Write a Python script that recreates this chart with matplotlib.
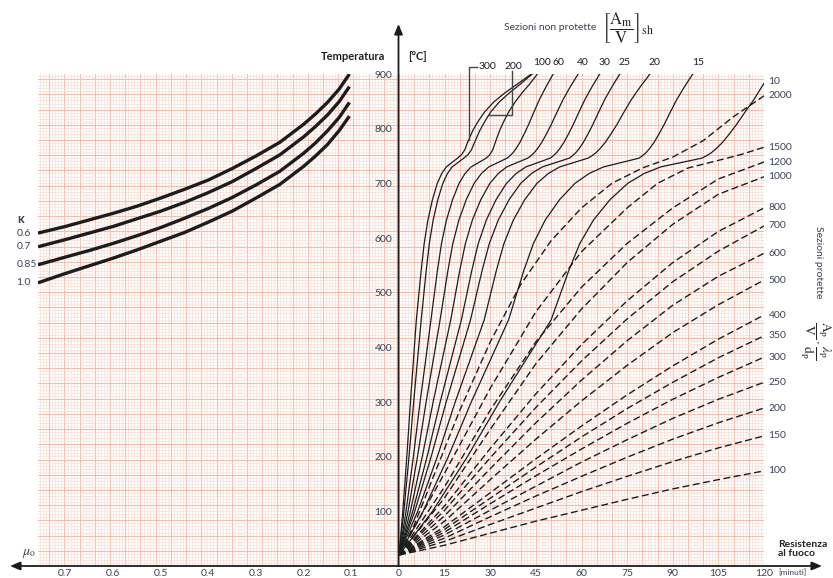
import numpy as np
import matplotlib.pyplot as plt
from matplotlib.ticker import MultipleLocator

plt.rcParams['font.family'] = ['Lato', 'DejaVu Sans']
plt.rcParams['mathtext.fontset'] = 'stix'

# left panel: critical temperature vs mu0 for several kappa
mu0 = [0.757, 0.7, 0.65, 0.6, 0.55, 0.5, 0.45, 0.4, 0.35, 0.3, 0.25, 0.2, 0.175, 0.15, 0.125, 0.104]
kappa_labels = ['0.6', '0.7', '0.85', '1.0']
theta_k06 = [609, 621, 633, 645, 658, 673, 689, 706, 727, 750, 775, 808, 827, 848, 873, 900]
theta_k07 = [584, 597, 609, 621, 635, 649, 665, 683, 703, 727, 752, 785, 804, 825, 850, 877]
theta_k085 = [551, 565, 577, 590, 604, 619, 636, 654, 674, 697, 722, 755, 774, 796, 821, 848]
theta_k10 = [518, 535, 549, 563, 578, 594, 610, 629, 649, 673, 698, 731, 750, 771, 797, 823]

# right panel: unprotected sections (solid), Am/V
# high Am/V: quick rise after the 735 C step
T_fast = [20, 100, 200, 300, 375, 450, 541, 590, 633, 670, 700, 718, 730, 738, 746,
          752, 761, 777, 797, 815, 831, 849, 865, 882, 900]
# lower Am/V: longer step, then steady rise
T_slow = [20, 100, 200, 300, 375, 450, 541, 590, 633, 670, 700, 718, 730, 738, 746,
          750, 756, 764, 775, 790, 808, 830, 853, 876, 900]
t_u300 = [0, 1.25, 2.57, 3.76, 4.73, 5.7, 7.30, 8.28, 9.51, 10.99, 12.59, 14.06, 15.54, 17.39, 19.23,
          20.5, 21.6, 22.7, 24.3, 26.2, 28.2, 31.2, 34.7, 39.0, 43.5]
t_u200 = [0, 1.61, 3.29, 4.82, 6.06, 7.3, 8.95, 9.97, 11.24, 12.76, 14.41, 15.94, 17.46, 19.37, 21.27,
          22.6, 23.8, 25.0, 26.6, 28.4, 30.2, 33.0, 36.2, 40.0, 43.8]
t_u100 = [0, 2.31, 4.73, 6.93, 8.72, 10.5, 12.65, 13.97, 15.62, 17.6, 19.74, 21.72, 23.7, 26.18, 28.65,
          29.8, 30.8, 31.8, 33.1, 34.6, 36.1, 38.2, 40.4, 43.0, 45.5]
t_u60 = [0, 2.97, 6.08, 8.91, 11.21, 13.5, 16.1, 17.7, 19.7, 22.1, 24.7, 27.1, 29.5, 32.5, 35.5,
         36.41, 37.48, 38.54, 39.76, 41.12, 42.64, 44.32, 46.14, 48.27, 50.7]
t_u40 = [0, 3.74, 7.65, 11.22, 14.11, 17, 19.99, 21.83, 24.13, 26.89, 29.88, 32.64, 35.4, 38.85, 42.3,
         43.3, 44.46, 45.62, 46.95, 48.44, 50.1, 51.93, 53.92, 56.24, 58.9]
t_u30 = [0, 4.51, 9.23, 13.53, 17.02, 20.5, 23.95, 26.07, 28.72, 31.9, 35.34, 38.52, 41.7, 45.68, 49.65,
         50.63, 51.78, 52.92, 54.23, 55.7, 57.33, 59.13, 61.1, 63.38, 66]
t_u25 = [0, 5.17, 10.58, 15.51, 19.51, 23.5, 27.34, 29.7, 32.65, 36.19, 40.02, 43.56, 47.1, 51.53, 55.95,
         56.95, 58.11, 59.28, 60.61, 62.11, 63.78, 65.61, 67.61, 69.94, 72.6]
t_u20 = [0, 6.16, 12.6, 18.48, 23.24, 28, 32.03, 34.51, 37.61, 41.33, 45.36, 49.08, 52.8, 57.45, 62.1,
         63.32, 64.75, 66.18, 67.81, 69.65, 71.69, 73.93, 76.38, 79.24, 82.5]
t_u15 = [0, 7.92, 16.2, 23.76, 29.88, 36, 41.07, 44.19, 48.09, 52.77, 57.84, 62.52, 67.2, 73.05, 78.9,
         79.96, 81.2, 82.44, 83.86, 85.45, 87.22, 89.17, 91.29, 93.77, 96.6]
t_u10 = [0, 11, 22.5, 33, 41.5, 50, 55.85, 59.45, 63.95, 69.35, 75.2, 80.6, 86, 92.75, 99.5,
         100.97, 102.69, 104.4, 106.36, 108.57, 111.02, 113.71, 116.65, 120]
T_u10 = [20, 100, 200, 300, 375, 450, 541, 590, 633, 670, 700, 718, 730, 738, 746,
         750, 756, 764, 775, 790, 808, 830, 853, 883]

# protected sections (dashed), Ap/V * lambda_p/d_p
t_p2000 = [0, 5, 10, 15, 20, 30, 40, 50, 60, 70, 80, 90, 100, 110, 120]
T_p2000 = [20, 75, 145, 215, 285, 410, 515, 595, 655, 700, 728, 748, 778, 822, 860]
t_p1500 = [0, 15, 30, 45, 60, 75, 85, 95, 105, 112, 120]
T_p1500 = [20, 170, 325, 465, 575, 655, 700, 728, 742, 752, 766]
t_prot = [0, 15, 30, 45, 60, 75, 90, 105, 120]
T_p1200 = [20, 145, 285, 410, 510, 590, 655, 708, 739]
T_p1000 = [20, 125, 250, 370, 470, 555, 625, 680, 712]
T_p800 = [20, 110, 215, 315, 405, 485, 555, 612, 655]
T_p700 = [20, 102, 198, 290, 375, 452, 520, 576, 622]
T_p600 = [20, 92, 178, 262, 340, 412, 477, 530, 572]
T_p500 = [20, 82, 158, 232, 302, 367, 427, 478, 523]
T_p400 = [20, 72, 134, 196, 256, 313, 366, 415, 459]
T_p350 = [20, 67, 124, 181, 236, 288, 336, 381, 421]
T_p300 = [20, 62, 114, 165, 214, 261, 305, 345, 382]
T_p250 = [20, 57, 102, 146, 190, 231, 270, 305, 336]
T_p200 = [20, 51, 90, 128, 164, 199, 232, 262, 289]
T_p150 = [20, 45, 76, 106, 136, 164, 191, 216, 238]
T_p100 = [20, 38, 60, 82, 102, 122, 141, 158, 174]

time_ticks = [0, 15, 30, 45, 60, 75, 90, 105, 120]
mu_ticks = [0.7, 0.6, 0.5, 0.4, 0.3, 0.2, 0.1]
temp_ticks = [100, 200, 300, 400, 500, 600, 700, 800, 900]

W, H = 833, 578
fig = plt.figure(figsize=(W / 100, H / 100), dpi=100)

def fx(px):
    return px / W

def fy(py):
    return 1 - py / H

txt_col = '#3a4256'
ink = '#1c1c1c'

# graph paper background (1 unit = 1 minute on the time scale)
ax_bg = fig.add_axes([fx(38), fy(566), fx(764) - fx(38), fy(74) - fy(566)])
ax_bg.set_xlim(-118.7, 120)
ax_bg.set_ylim(0, 161.7)
ax_bg.xaxis.set_minor_locator(MultipleLocator(1))
ax_bg.xaxis.set_major_locator(MultipleLocator(5))
ax_bg.yaxis.set_minor_locator(MultipleLocator(1))
ax_bg.yaxis.set_major_locator(MultipleLocator(5))
ax_bg.grid(which='minor', color='#f9ded5', lw=0.5)
ax_bg.grid(which='major', color='#f1bfae', lw=0.8)
ax_bg.tick_params(which='both', length=0, labelbottom=False, labelleft=False)
for s in ax_bg.spines.values():
    s.set_visible(False)

# left panel
ax_l = fig.add_axes([fx(38), fy(566), fx(399) - fx(38), fy(74) - fy(566)])
ax_l.patch.set_alpha(0)
ax_l.set_xlim(0.757, 0)
ax_l.set_ylim(0, 900)
for th, lab in zip([theta_k06, theta_k07, theta_k085, theta_k10], kappa_labels):
    ax_l.plot(mu0, th, color=ink, lw=2.4, solid_capstyle='butt')
    ax_l.text(0.8025, th[0], lab, ha='left', va='center', fontsize=7.5, color=txt_col)
ax_l.text(0.8, theta_k06[0] + 25, 'κ', ha='left', va='center', fontsize=9,
          color=txt_col, fontweight='bold')
ax_l.set_xticks(mu_ticks)
ax_l.set_xticklabels([str(v) for v in mu_ticks])
ax_l.set_yticks([])
ax_l.tick_params(axis='x', length=0, pad=2, labelsize=7.5, labelcolor=txt_col)
for s in ax_l.spines.values():
    s.set_visible(False)

# right panel
ax_r = fig.add_axes([fx(399), fy(566), fx(764) - fx(399), fy(74) - fy(566)])
ax_r.patch.set_alpha(0)
ax_r.set_xlim(0, 120)
ax_r.set_ylim(0, 900)

solid = [(t_u300, T_fast, '300'), (t_u200, T_fast, '200'), (t_u100, T_fast, '100'),
         (t_u60, T_slow, '60'), (t_u40, T_slow, '40'), (t_u30, T_slow, '30'),
         (t_u25, T_slow, '25'), (t_u20, T_slow, '20'), (t_u15, T_slow, '15'),
         (t_u10, T_u10, '10')]
for t, T, lab in solid:
    ax_r.plot(t, T, color=ink, lw=0.9)
    if lab in ('300', '200'):
        continue
    if lab == '10':
        ax_r.text(121.5, T[-1] + 3, lab, ha='left', va='center', fontsize=7.5, color=txt_col)
    else:
        ax_r.text(t[-1] + 1.6, 912, lab, ha='center', va='bottom', fontsize=7.5, color=ink)

dashed = [(t_p2000, T_p2000, '2000'), (t_p1500, T_p1500, '1500'), (t_prot, T_p1200, '1200'),
          (t_prot, T_p1000, '1000'), (t_prot, T_p800, '800'), (t_prot, T_p700, '700'),
          (t_prot, T_p600, '600'), (t_prot, T_p500, '500'), (t_prot, T_p400, '400'),
          (t_prot, T_p350, '350'), (t_prot, T_p300, '300'), (t_prot, T_p250, '250'),
          (t_prot, T_p200, '200'), (t_prot, T_p150, '150'), (t_prot, T_p100, '100')]
for t, T, lab in dashed:
    ax_r.plot(t, T, color=ink, lw=1.0, ls=(0, (5, 2.5)))
    ax_r.text(121.5, T[-1], lab, ha='left', va='center', fontsize=7.5, color=txt_col)

# leaders for 300 and 200
T300_lead = 779
t300_lead = np.interp(T300_lead, T_fast, t_u300)
ax_r.plot([t300_lead, t300_lead, 25.8], [T300_lead, 913, 913], color='#444', lw=1.0, clip_on=False)
ax_r.text(26.2, 913, '300', ha='left', va='center', fontsize=7.5, color=ink)
T200_lead = 825
t200_lead = np.interp(T200_lead, T_fast, t_u200)
ax_r.plot([t200_lead, 37.3, 37.3], [T200_lead, T200_lead, 905], color='#444', lw=1.0, clip_on=False)
ax_r.text(37.6, 913, '200', ha='center', va='center', fontsize=7.5, color=ink)

ax_r.set_xticks(time_ticks)
ax_r.set_xticklabels([str(v) for v in time_ticks])
ax_r.set_yticks(temp_ticks)
ax_r.set_yticklabels([str(v) for v in temp_ticks])
ax_r.tick_params(axis='both', length=0, labelsize=7.5, labelcolor=txt_col)
ax_r.tick_params(axis='x', pad=2)
ax_r.tick_params(axis='y', pad=5)
for s in ax_r.spines.values():
    s.set_visible(False)

# axes with arrows
arr = dict(arrowstyle='-|>,head_length=0.6,head_width=0.25', color=ink, lw=1.3,
           shrinkA=0, shrinkB=0)
ax_r.annotate('', xy=(fx(398.5), fy(24)), xytext=(fx(398.5), fy(566)),
              xycoords='figure fraction', textcoords='figure fraction', arrowprops=arr)
ax_r.annotate('', xy=(fx(822), fy(566)), xytext=(fx(398.5), fy(566)),
              xycoords='figure fraction', textcoords='figure fraction', arrowprops=arr)
ax_r.annotate('', xy=(fx(10), fy(566)), xytext=(fx(398.5), fy(566)),
              xycoords='figure fraction', textcoords='figure fraction', arrowprops=arr)

# titles and labels
fig.text(fx(385), fy(57), 'Temperatura', ha='right', va='center', fontsize=8,
         fontweight='bold', color='#222')
fig.text(fx(408), fy(57), '[°C]', ha='left', va='center', fontsize=8,
         fontweight='bold', color='#222')
fig.text(fx(550), fy(27), 'Sezioni non protette', ha='center', va='center',
         fontsize=7.5, color=txt_col)
fig.text(fx(602), fy(28), r'$\left[\dfrac{\mathrm{A_m}}{\mathrm{V}}\right]_{\mathrm{sh}}$',
         ha='left', va='center', fontsize=12, color='#222')
fig.text(fx(819), fy(262), 'Sezioni protette', ha='center', va='center',
         fontsize=7.5, rotation=270, color=txt_col)
fig.text(fx(815), fy(340), r'$\dfrac{\mathrm{A_p}}{\mathrm{V}}\cdot\dfrac{\lambda_\mathrm{p}}{\mathrm{d_p}}$',
         ha='center', va='center', fontsize=9.5, rotation=270, color='#222')
fig.text(fx(778), fy(549), 'Resistenza\nal fuoco', ha='left', va='center',
         fontsize=7.5, fontweight='bold', color='#222', linespacing=0.95)
fig.text(fx(778), fy(573), '[minuti]', ha='left', va='center', fontsize=6, color=txt_col)
fig.text(fx(22), fy(554), r'$\mu_\mathrm{o}$', ha='left', va='center', fontsize=10, color=txt_col)

fig.savefig('out.png', dpi=100)
